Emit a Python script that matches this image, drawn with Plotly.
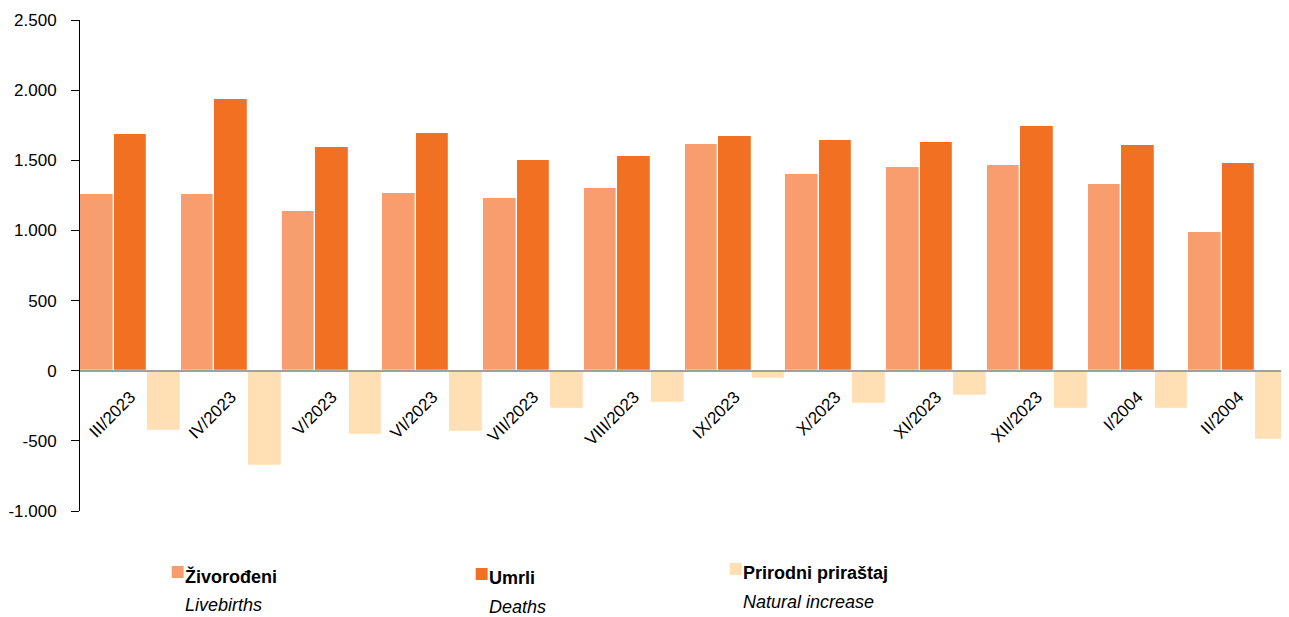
import plotly.graph_objects as go

categories = ["III/2023", "IV/2023", "V/2023", "VI/2023", "VII/2023", "VIII/2023",
              "IX/2023", "X/2023", "XI/2023", "XII/2023", "I/2004", "II/2004"]
livebirths = [1262, 1260, 1136, 1264, 1231, 1302, 1614, 1405, 1450, 1469, 1331, 986]
deaths = [1690, 1938, 1595, 1698, 1505, 1531, 1676, 1643, 1633, 1743, 1607, 1479]
natural_increase = [-428, -678, -459, -434, -274, -229, -62, -238, -183, -274, -276, -493]

y_tickvals = [-1000, -500, 0, 500, 1000, 1500, 2000, 2500]
y_ticktext = ["-1.000", "-500", "0", "500", "1.000", "1.500", "2.000", "2.500"]

legend_names = [("Živorođeni", "Livebirths"), ("Umrli", "Deaths"), ("Prirodni priraštaj", "Natural increase")]

C_BIRTH = "#F89E6E"
C_DEATH = "#F27022"
C_NAT = "#FFDFB3"

FONT = "Liberation Sans Narrow, Arial Narrow, Liberation Sans, Arial, sans-serif"
TICKFONT = "Liberation Sans, Arial, sans-serif"

# page is rendered with an 8px body margin -> figure drawn at (8, 8)
W, H = 1281, 609
PL, PR = 76, 1289      # plot left/right in page px
PT, PB = 20, 511       # plot top/bottom in page px

fig = go.Figure()
for vals, col, nm in [(livebirths, C_BIRTH, legend_names[0][0]),
                      (deaths, C_DEATH, legend_names[1][0]),
                      (natural_increase, C_NAT, legend_names[2][0])]:
    fig.add_trace(go.Bar(x=categories, y=vals, name=nm,
                         marker=dict(color=col, line=dict(color="white", width=1.2)),
                         showlegend=False))

y0, y1 = -1000, 2500
zero_pos = (0 - y0) / (y1 - y0)

fig.update_layout(
    width=W, height=H,
    margin=dict(l=PL - 8, r=(8 + W) - PR, t=PT - 8, b=(8 + H) - PB, pad=0),
    plot_bgcolor="white", paper_bgcolor="white",
    barmode="group", bargap=0.0, bargroupgap=0.0,
    xaxis=dict(anchor="free", position=zero_pos, showline=True, linecolor="#A0A0A0", linewidth=1.5,
               tickangle=-45, ticks="", showgrid=False, zeroline=False, ticklabelstandoff=9,
               tickfont=dict(family=TICKFONT, size=17, color="black"),
               range=[-0.5, 11.5]),
    yaxis=dict(range=[y0, y1], tickvals=y_tickvals, ticktext=y_ticktext, showline=True, linecolor="black",
               linewidth=1, ticks="outside", ticklen=8, tickcolor="black", showgrid=False,
               ticklabelstandoff=11,
               zeroline=False, tickfont=dict(family=TICKFONT, size=17, color="black")),
    showlegend=False,
)

pw = PR - PL
ph = PB - PT
# custom legend (two-line labels)
leg_x = [168, 473, 728]
leg_y = [566, 568, 563]
colors = [C_BIRTH, C_DEATH, C_NAT]
for (sr, en), lx, ly, col in zip(legend_names, leg_x, leg_y, colors):
    fig.add_shape(type="rect", xref="paper", yref="paper",
                  x0=(lx - PL) / pw, x1=(lx + 12 - PL) / pw,
                  y0=(PB - (ly + 12)) / ph, y1=(PB - ly) / ph,
                  fillcolor=col, line=dict(width=0))
    fig.add_annotation(xref="paper", yref="paper", x=(lx + 11 - PL) / pw, y=(PB - (ly + 10)) / ph,
                       text=f"<b>{sr}</b>", showarrow=False, xanchor="left", yanchor="middle",
                       font=dict(family=FONT, size=18, color="black"))
    fig.add_annotation(xref="paper", yref="paper", x=(lx + 11 - PL) / pw, y=(PB - (ly + 39)) / ph,
                       text=f"<i>{en}</i>", showarrow=False, xanchor="left", yanchor="middle",
                       font=dict(family=FONT, size=18, color="black"))

fig.write_html("out.html")
